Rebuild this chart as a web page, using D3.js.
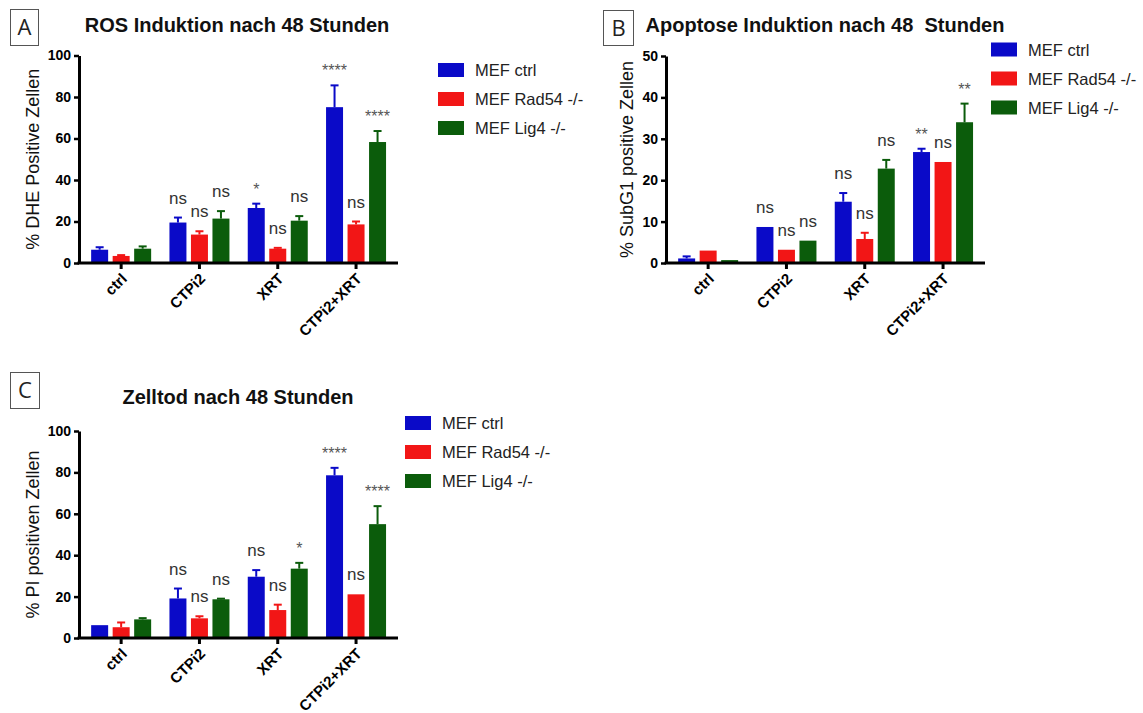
<!DOCTYPE html>
<html>
<head>
<meta charset="utf-8">
<script src="https://cdn.jsdelivr.net/npm/d3@7/dist/d3.min.js"></script>
<style>
  html, body { margin: 0; padding: 0; background: #fff; }
  svg { display: block; font-family: "Liberation Sans", Arial, Helvetica, sans-serif; }
</style>
</head>
<body>
<svg id="chart" width="1143" height="713"></svg>
<script>
// ---------- data ----------
const categories = ["ctrl", "CTPi2", "XRT", "CTPi2+XRT"];
const seriesNames = ["MEF ctrl", "MEF Rad54 -/-", "MEF Lig4 -/-"];
const seriesColors = ["#0a0ac8", "#f21616", "#0b5c0b"];

// Panel A: ROS (% DHE positive cells) – one array per series, values per category
const rosCtrl  = [6.4, 19.5, 26.5, 75.1];
const rosRad54 = [3.4, 13.7, 6.9, 18.6];
const rosLig4  = [6.9, 21.4, 20.4, 58.3];
const rosErrCtrl  = [1.2, 2.4, 2.1, 10.5];
const rosErrRad54 = [0.4, 1.6, 0.4, 1.4];
const rosErrLig4  = [1.1, 3.6, 2.2, 5.3];
const rosSigCtrl  = ["", "ns", "*", "****"];
const rosSigRad54 = ["", "ns", "ns", "ns"];
const rosSigLig4  = ["", "ns", "ns", "****"];
const rosTicks = [0, 20, 40, 60, 80, 100];

// Panel B: Apoptosis (% SubG1 positive cells)
const apoCtrl  = [1.1, 8.7, 14.8, 26.8];
const apoRad54 = [3.0, 3.2, 5.8, 24.4];
const apoLig4  = [0.7, 5.4, 22.8, 34.0];
const apoErrCtrl  = [0.5, 0, 2.1, 0.8];
const apoErrRad54 = [0, 0, 1.5, 0];
const apoErrLig4  = [0, 0, 2.1, 4.5];
const apoSigCtrl  = ["", "ns", "ns", "**"];
const apoSigRad54 = ["", "ns", "ns", "ns"];
const apoSigLig4  = ["", "ns", "ns", "**"];
const apoTicks = [0, 10, 20, 30, 40, 50];

// Panel C: Cell death (% PI positive cells)
const piCtrl  = [6.2, 19.1, 29.6, 78.6];
const piRad54 = [5.2, 9.5, 13.5, 21.1];
const piLig4  = [9.0, 18.7, 33.5, 55.0];
const piErrCtrl  = [0, 4.8, 3.2, 3.6];
const piErrRad54 = [2.3, 1.0, 2.6, 0];
const piErrLig4  = [0.6, 0.3, 2.8, 8.7];
const piSigCtrl  = ["", "ns", "ns", "****"];
const piSigRad54 = ["", "ns", "ns", "ns"];
const piSigLig4  = ["", "ns", "*", "****"];
const piTicks = [0, 20, 40, 60, 80, 100];

// ---------- drawing ----------
const svg = d3.select("#chart");

function drawPanel(p) {
  const g = svg.append("g");

  // panel letter box
  g.append("rect").attr("x", p.box[0] + 0.5).attr("y", p.box[1] + 0.5)
    .attr("width", p.box[2]).attr("height", p.box[3])
    .attr("fill", "none").attr("stroke", "#555").attr("stroke-width", 1);
  g.append("text").attr("x", p.box[0] + p.box[2] / 2 + 0.5).attr("y", p.box[1] + p.box[3] / 2 + 8)
    .attr("text-anchor", "middle").attr("font-family", "'Open Sans', 'Noto Sans', sans-serif")
    .attr("font-size", 22).attr("fill", "#222").text(p.letter);

  // title
  g.append("text").attr("x", p.titleX).attr("y", p.titleY)
    .attr("text-anchor", "middle").attr("font-weight", "bold").attr("font-size", 20)
    .attr("fill", "#111").text(p.title);

  const y = d3.scaleLinear().domain([0, d3.max(p.ticks)]).range([p.y0, p.yTop]);
  const x = d3.scaleBand().domain(categories)
    .range([p.axisX + 3, p.axisX + 3 + 313.2]).paddingInner(0).paddingOuter(0);
  const xs = d3.scaleBand().domain(d3.range(seriesNames.length))
    .range([-30, 30]).paddingInner(0.21).paddingOuter(0);

  // bars, error bars, significance labels
  p.means.forEach((vals, si) => {
    const col = seriesColors[si];
    const sg = g.append("g");
    categories.forEach((cat, ci) => {
      const cx = x(cat) + x.bandwidth() / 2;
      const bx = cx + xs(si);
      const bw = xs.bandwidth();
      const v = vals[ci];
      const e = p.errs[si][ci];
      sg.append("rect").attr("x", bx).attr("y", y(v))
        .attr("width", bw).attr("height", y(0) - y(v)).attr("fill", col);
      if (e > 0) {
        const mx = bx + bw / 2;
        sg.append("line").attr("x1", mx).attr("x2", mx).attr("y1", y(v)).attr("y2", y(v + e))
          .attr("stroke", col).attr("stroke-width", 2);
        sg.append("line").attr("x1", mx - 4).attr("x2", mx + 4).attr("y1", y(v + e)).attr("y2", y(v + e))
          .attr("stroke", col).attr("stroke-width", 2);
      }
      const s = p.sigs[si][ci];
      if (s) {
        const isStar = s.indexOf("*") === 0;
        g.append("text").attr("x", bx + bw / 2).attr("y", y(v + e) - (isStar ? 9 : 14))
          .attr("text-anchor", "middle").attr("font-size", isStar ? 16 : 17)
          .attr("fill", isStar ? "#555" : "#333").text(s);
      }
    });
  });

  // y axis
  const ya = g.append("g").attr("transform", `translate(${p.axisX},0)`)
    .call(d3.axisLeft(y).tickValues(p.ticks).tickSize(5).tickSizeOuter(0).tickPadding(3));
  ya.select(".domain").attr("stroke", "#000").attr("stroke-width", 3);
  ya.selectAll(".tick line").attr("stroke", "#000").attr("stroke-width", 2.5);
  ya.selectAll(".tick text").attr("font-size", 14).attr("font-weight", "bold")
    .attr("fill", "#000").attr("font-family", "'Liberation Sans', Arial, sans-serif");

  // x axis
  const xa = g.append("g").attr("transform", `translate(0,${p.y0})`)
    .call(d3.axisBottom(x).tickSize(6).tickSizeOuter(0));
  xa.select(".domain").remove();
  xa.selectAll(".tick line").attr("stroke", "#000").attr("stroke-width", 3);
  xa.selectAll(".tick text").attr("font-size", 15).attr("font-weight", "bold").attr("fill", "#000")
    .attr("font-family", "'Liberation Sans', Arial, sans-serif")
    .attr("x", 0).attr("y", 0).attr("dy", "0.35em").attr("text-anchor", "end")
    .attr("transform", "translate(3,13) rotate(-45)");
  g.append("line").attr("x1", p.axisX - 1.5).attr("x2", p.axisX + 319)
    .attr("y1", p.y0).attr("y2", p.y0).attr("stroke", "#000").attr("stroke-width", 3);

  // y axis title
  g.append("text")
    .attr("transform", `translate(${p.yLabelX},${(p.y0 + p.yTop) / 2}) rotate(-90)`)
    .attr("text-anchor", "middle").attr("font-size", 18).attr("fill", "#111").text(p.yLabel);

  // legend
  const lg = g.append("g");
  seriesNames.forEach((name, i) => {
    const cy = p.legY[i];
    lg.append("rect").attr("x", p.legX).attr("y", cy - 7).attr("width", 26).attr("height", 14)
      .attr("fill", seriesColors[i]);
    lg.append("text").attr("x", p.legX + 37).attr("y", cy + 6)
      .attr("font-size", 16.5).attr("fill", "#222").text(name);
  });
}

drawPanel({
  letter: "A", box: [10, 9, 28, 36],
  title: "ROS Induktion nach 48 Stunden", titleX: 237, titleY: 32,
  axisX: 79, y0: 263, yTop: 55.5, ticks: rosTicks,
  means: [rosCtrl, rosRad54, rosLig4], errs: [rosErrCtrl, rosErrRad54, rosErrLig4],
  sigs: [rosSigCtrl, rosSigRad54, rosSigLig4],
  yLabel: "% DHE Positive Zellen", yLabelX: 39,
  legX: 438, legY: [70, 99, 128]
});

drawPanel({
  letter: "B", box: [603, 10, 30, 35],
  title: "Apoptose Induktion nach 48\u00a0 Stunden", titleX: 825, titleY: 32,
  axisX: 666, y0: 263, yTop: 56, ticks: apoTicks,
  means: [apoCtrl, apoRad54, apoLig4], errs: [apoErrCtrl, apoErrRad54, apoErrLig4],
  sigs: [apoSigCtrl, apoSigRad54, apoSigLig4],
  yLabel: "% SubG1 positive Zellen", yLabelX: 633,
  legX: 991, legY: [49.5, 78.5, 107.5]
});

drawPanel({
  letter: "C", box: [10, 372, 29, 36],
  title: "Zelltod nach 48 Stunden", titleX: 238, titleY: 404,
  axisX: 79, y0: 638, yTop: 431, ticks: piTicks,
  means: [piCtrl, piRad54, piLig4], errs: [piErrCtrl, piErrRad54, piErrLig4],
  sigs: [piSigCtrl, piSigRad54, piSigLig4],
  yLabel: "% PI positiven Zellen", yLabelX: 39,
  legX: 405, legY: [423, 452, 481]
});
</script>
</body>
</html>
